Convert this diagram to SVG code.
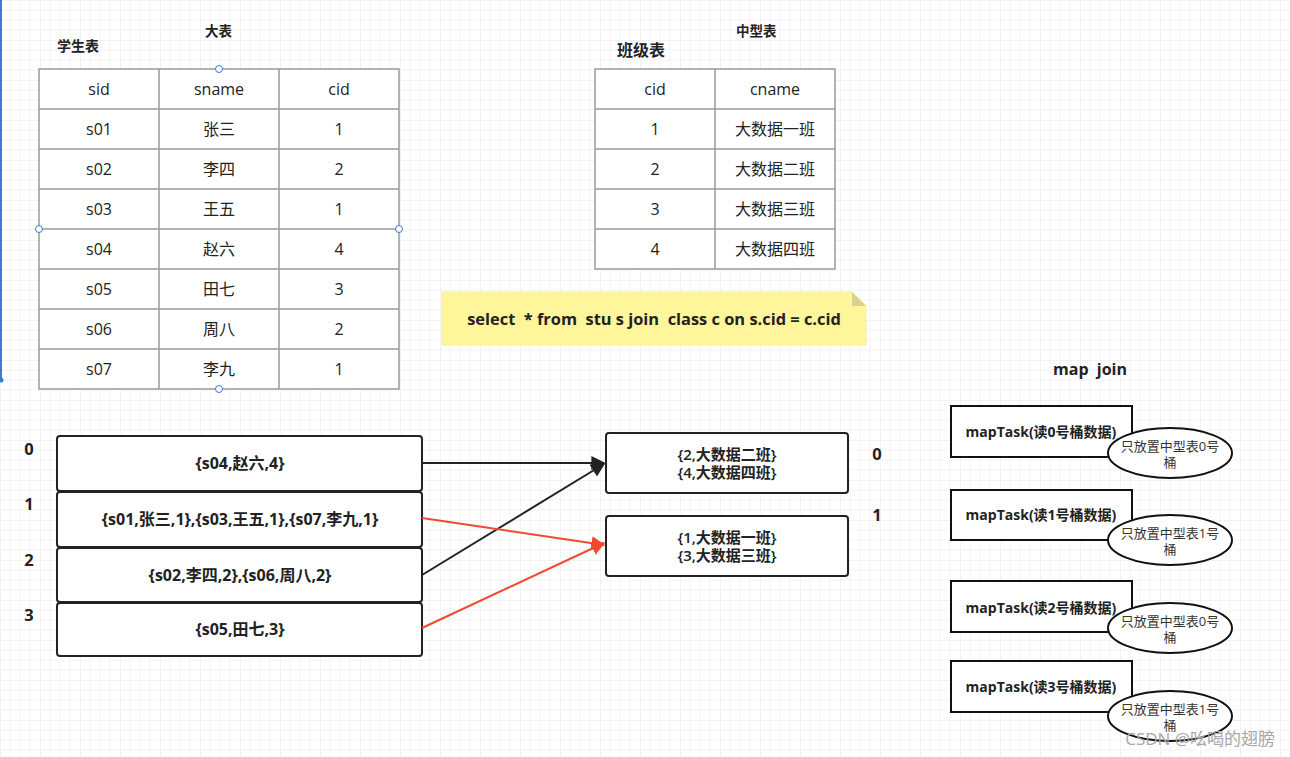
<svg xmlns="http://www.w3.org/2000/svg" width="1290" height="757" viewBox="0 0 1290 757">
<style>
text{font-family:"Open Sans","Noto Sans CJK SC",sans-serif;fill:#222;white-space:pre}
.cell{font-size:16px;fill:#333;text-anchor:middle}
.tb{fill:#fff;stroke:#9a9a9a;stroke-width:1.5}
.title{font-size:13.5px;font-weight:bold}
.bk{fill:#fff;stroke:#222;stroke-width:2}
.bt{font-size:16px;font-weight:bold;text-anchor:middle}
.bt2{font-size:15px;font-weight:600;text-anchor:middle}
.idx{font-size:16.5px;font-weight:bold;text-anchor:middle}
.mt{fill:#fff;stroke:#111;stroke-width:2}
.mtt{font-size:14px;font-weight:bold;text-anchor:middle}
.el{fill:#fff;stroke:#111;stroke-width:2}
.elt{font-size:13px;text-anchor:middle;fill:#333}
.h{fill:#fff;stroke:#3a7bd5;stroke-width:1}
</style>
<defs>
<pattern id="g" width="40" height="40" patternUnits="userSpaceOnUse">
<path d="M10 0V40M20 0V40M30 0V40M0 10H40M0 20H40M0 30H40" stroke="#f3f3f3" stroke-width="1" fill="none"/>
<path d="M0 0V40M0 0H40" stroke="#e6e6e6" stroke-width="1" fill="none"/>
</pattern>
<marker id="ab" viewBox="0 0 10 10" refX="9" refY="5" markerWidth="7" markerHeight="7" orient="auto" markerUnits="strokeWidth"><path d="M0 0L10 5L0 10z" fill="#222"/></marker>
<marker id="ar" viewBox="0 0 10 10" refX="9" refY="5" markerWidth="7" markerHeight="7" orient="auto" markerUnits="strokeWidth"><path d="M0 0L10 5L0 10z" fill="#f04a30"/></marker>
</defs>
<rect width="1290" height="757" fill="#fff"/>
<rect width="1290" height="757" fill="url(#g)"/>
<line x1="1" y1="0" x2="1" y2="380" stroke="#3a7bd5" stroke-width="2"/>
<circle cx="1" cy="380" r="2.5" fill="#3a7bd5"/>

<g id="student-table">
<text class="title" x="57" y="51" style="font-size:14px">学生表</text>
<text class="title" x="205" y="36">大表</text>
<g class="tb">
<rect x="39" y="69" width="360" height="320"/>
<path d="M159 69V389M279 69V389M39 109H399M39 149H399M39 189H399M39 229H399M39 269H399M39 309H399M39 349H399"/>
</g>
<g class="cell">
<text x="99" y="95">sid</text><text x="219" y="95">sname</text><text x="339" y="95">cid</text>
<text x="99" y="135">s01</text><text x="219" y="135">张三</text><text x="339" y="135">1</text>
<text x="99" y="175">s02</text><text x="219" y="175">李四</text><text x="339" y="175">2</text>
<text x="99" y="215">s03</text><text x="219" y="215">王五</text><text x="339" y="215">1</text>
<text x="99" y="255">s04</text><text x="219" y="255">赵六</text><text x="339" y="255">4</text>
<text x="99" y="295">s05</text><text x="219" y="295">田七</text><text x="339" y="295">3</text>
<text x="99" y="335">s06</text><text x="219" y="335">周八</text><text x="339" y="335">2</text>
<text x="99" y="375">s07</text><text x="219" y="375">李九</text><text x="339" y="375">1</text>
</g>
<circle class="h" cx="219" cy="69" r="3.5"/>
<circle class="h" cx="219" cy="389" r="3.5"/>
<circle class="h" cx="39" cy="229" r="3.5"/>
<circle class="h" cx="399" cy="229" r="3.5"/>
</g>

<g id="class-table">
<text x="617" y="56" style="font-size:16px;font-weight:bold">班级表</text>
<text class="title" x="736" y="36">中型表</text>
<g class="tb">
<rect x="595" y="69" width="240" height="200"/>
<path d="M715 69V269M595 109H835M595 149H835M595 189H835M595 229H835"/>
</g>
<g class="cell">
<text x="655" y="95">cid</text><text x="775" y="95">cname</text>
<text x="655" y="135">1</text><text x="775" y="135">大数据一班</text>
<text x="655" y="175">2</text><text x="775" y="175">大数据二班</text>
<text x="655" y="215">3</text><text x="775" y="215">大数据三班</text>
<text x="655" y="255">4</text><text x="775" y="255">大数据四班</text>
</g>
</g>

<g id="sql-note">
<path d="M442 292H852L866 306V345H442Z" fill="#fff59a" stroke="#f6ef9a" stroke-width="1"/>
<path d="M852 292V306H866Z" fill="#d9d190"/>
<text x="654" y="325" style="font-size:16.4px;font-weight:bold;text-anchor:middle">select  * from  stu s join  class c on s.cid = c.cid</text>
</g>

<g id="buckets">
<text class="idx" x="29" y="455">0</text>
<text class="idx" x="29" y="510">1</text>
<text class="idx" x="29" y="566">2</text>
<text class="idx" x="29" y="621">3</text>
<rect class="bk" x="57" y="436" width="365" height="55" rx="3"/>
<rect class="bk" x="57" y="492" width="365" height="55" rx="3"/>
<rect class="bk" x="57" y="548" width="365" height="54" rx="3"/>
<rect class="bk" x="57" y="603" width="365" height="53" rx="3"/>
<text class="bt" x="240" y="469">{s04,赵六,4}</text>
<text class="bt" x="240" y="525">{s01,张三,1},{s03,王五,1},{s07,李九,1}</text>
<text class="bt" x="240" y="581">{s02,李四,2},{s06,周八,2}</text>
<text class="bt" x="240" y="635">{s05,田七,3}</text>
</g>

<g id="class-buckets">
<rect class="bk" x="606" y="433" width="242" height="60" rx="3"/>
<rect class="bk" x="606" y="516" width="242" height="60" rx="3"/>
<text class="bt2" x="727" y="460">{2,大数据二班}</text>
<text class="bt2" x="727" y="478">{4,大数据四班}</text>
<text class="bt2" x="727" y="543">{1,大数据一班}</text>
<text class="bt2" x="727" y="561">{3,大数据三班}</text>
<text class="idx" x="877" y="460">0</text>
<text class="idx" x="877" y="521">1</text>
</g>

<g id="connectors" fill="none" stroke-width="2">
<line x1="422" y1="463" x2="604" y2="463" stroke="#222" marker-end="url(#ab)"/>
<line x1="422" y1="575" x2="604" y2="464" stroke="#222" marker-end="url(#ab)"/>
<line x1="422" y1="518" x2="604" y2="545" stroke="#f04a30" marker-end="url(#ar)"/>
<line x1="422" y1="628" x2="604" y2="543" stroke="#f04a30" marker-end="url(#ar)"/>
</g>

<g id="map-join">
<text x="1090" y="375" style="font-size:16px;font-weight:bold;text-anchor:middle">map  join</text>
<rect class="mt" x="951" y="406" width="181" height="51"/>
<rect class="mt" x="951" y="490" width="181" height="50"/>
<rect class="mt" x="951" y="581" width="181" height="51"/>
<rect class="mt" x="951" y="661" width="181" height="51"/>
<text class="mtt" x="1041" y="437">mapTask(读0号桶数据)</text>
<text class="mtt" x="1041" y="520">mapTask(读1号桶数据)</text>
<text class="mtt" x="1041" y="613">mapTask(读2号桶数据)</text>
<text class="mtt" x="1041" y="692">mapTask(读3号桶数据)</text>
<ellipse class="el" cx="1170" cy="453" rx="62" ry="25"/>
<ellipse class="el" cx="1170" cy="540" rx="62" ry="25"/>
<ellipse class="el" cx="1170" cy="628" rx="62" ry="25"/>
<ellipse class="el" cx="1170" cy="716" rx="62" ry="25"/>
<text class="elt" x="1170" y="451">只放置中型表0号</text><text class="elt" x="1170" y="467">桶</text>
<text class="elt" x="1170" y="538">只放置中型表1号</text><text class="elt" x="1170" y="554">桶</text>
<text class="elt" x="1170" y="626">只放置中型表0号</text><text class="elt" x="1170" y="642">桶</text>
<text class="elt" x="1170" y="714">只放置中型表1号</text><text class="elt" x="1170" y="730">桶</text>
</g>

<text x="1275" y="745" style="font-size:17px;fill:#a8a8a8;text-anchor:end">CSDN @吆喝的翅膀</text>
</svg>
